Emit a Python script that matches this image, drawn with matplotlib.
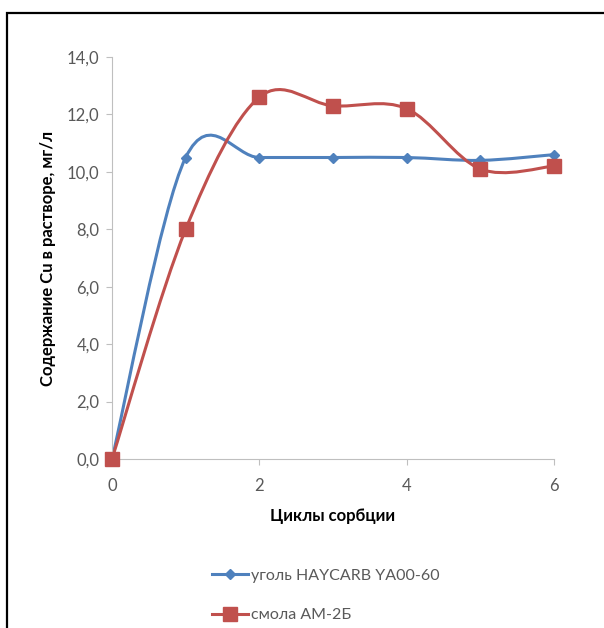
import numpy as np
import matplotlib.pyplot as plt
from matplotlib.path import Path
from matplotlib.patches import PathPatch, Rectangle
from matplotlib.lines import Line2D
from matplotlib.ticker import FuncFormatter

plt.rcParams['font.family'] = ['Lato', 'DejaVu Sans']

cycles = [0, 1, 2, 3, 4, 5, 6]
ugol = [0.0, 10.5, 10.5, 10.5, 10.5, 10.4, 10.6]
smola = [0.0, 8.0, 12.6, 12.3, 12.2, 10.1, 10.2]

lbl_ugol = 'уголь HAYCARB YA00-60'
lbl_smola = 'смола АМ-2Б'
blue = '#4F81BD'
red = '#C0504D'


def smooth_path(x, y):
    # сглаженная линия как в Excel (кривые Безье по точкам)
    p = np.column_stack([x, y]).astype(float)
    verts = [p[0]]
    codes = [Path.MOVETO]
    n = len(p)
    for i in range(n - 1):
        p0 = p[max(i - 1, 0)]
        p1 = p[i]
        p2 = p[i + 1]
        p3 = p[min(i + 2, n - 1)]
        c1 = p1 + (p2 - p0) / 6
        c2 = p2 - (p3 - p1) / 6
        verts += [c1, c2, p2]
        codes += [Path.CURVE4] * 3
    return Path(verts, codes)


fig = plt.figure(figsize=(6.04, 6.28), dpi=100)
fig.patches.append(Rectangle((7 / 604, -0.1), 1.2, 1 - 13 / 628 + 0.1,
                             transform=fig.transFigure, fill=False,
                             edgecolor='black', linewidth=1.6))

ax = fig.add_axes([112 / 604, 1 - 459 / 628, 442 / 604, 402 / 628])

for yy, col, mk, ms in [(ugol, blue, 'D', 5.5), (smola, red, 's', 10)]:
    ax.add_patch(PathPatch(smooth_path(cycles, yy), facecolor='none',
                           edgecolor=col, linewidth=2.2, clip_on=False))
    ax.plot(cycles, yy, linestyle='none', marker=mk, markersize=ms,
            color=col, clip_on=False, zorder=3)

ax.set_xlim(0, 6)
ax.set_ylim(0, 14)
ax.set_xticks([0, 2, 4, 6])
ax.set_yticks(np.arange(0, 15, 2))
ax.yaxis.set_major_formatter(FuncFormatter(lambda v, p: f'{v:.1f}'.replace('.', ',')))
for s in ['top', 'right']:
    ax.spines[s].set_visible(False)
for s in ['left', 'bottom']:
    ax.spines[s].set_color('#BFBFBF')
ax.tick_params(colors='#BFBFBF', labelcolor='#595959', labelsize=12, length=4)
ax.tick_params(axis='x', pad=10)
ax.tick_params(axis='y', pad=5)

ax.set_xlabel('Циклы сорбции', fontsize=12, fontweight='bold', labelpad=10)
ax.set_ylabel('Содержание Cu в растворе, мг/л', fontsize=12,
              fontweight='bold', labelpad=8)

handles = [Line2D([], [], color=blue, marker='D', markersize=5.5, linewidth=2.2),
           Line2D([], [], color=red, marker='s', markersize=10, linewidth=2.2)]
fig.legend(handles, [lbl_ugol, lbl_smola], loc='upper left',
           bbox_to_anchor=(198 / 604, 1 - 554 / 628), frameon=False,
           fontsize=11.5, labelspacing=1.6, handlelength=2.2,
           handletextpad=0.2, labelcolor='#595959')

fig.savefig('out.png', dpi=100)
